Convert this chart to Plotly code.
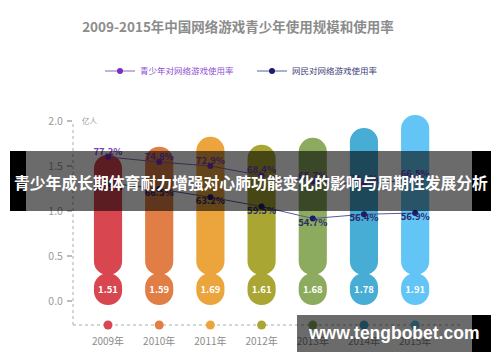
import plotly.graph_objects as go

# ---------------- data ----------------
years = ["2009年", "2010年", "2011年", "2012年", "2013年", "2014年", "2015年"]
users = [1.51, 1.59, 1.69, 1.61, 1.68, 1.78, 1.91]          # 亿人
youth_rate = [77.2, 74.8, 72.9, 68.4, 65.7, 64.2, 66.5]       # 青少年对网络游戏使用率 %
netizen_rate = [68.9, 66.5, 63.2, 59.5, 54.7, 56.4, 56.9]     # 网民对网络游戏使用率 %
y_ticks = [0.0, 0.5, 1.0, 1.5, 2.0]
y_tick_text = ["0.0", "0.5", "1.0", "1.5", "2.0"]

title_text = "2009-2015年中国网络游戏青少年使用规模和使用率"
youth_name = "青少年对网络游戏使用率"
netizen_name = "网民对网络游戏使用率"
unit_text = "亿人"
banner_text = "青少年成长期体育耐力增强对心肺功能变化的影响与周期性发展分析"
watermark_text = "www.tengbobet.com"

bar_colors = ["#d8464f", "#e07e46", "#eca43c", "#a9a634", "#8cab5e", "#47add4", "#63c5f6"]

# ---------------- layout helpers ----------------
W, H = 500, 362
L, R, T, B = 73, 40, 110, 37
PW, PH = W - L - R, H - T - B


def px(x):
    return (x - L) / PW


def py(y):
    return (H - B - y) / PH


Y_MIN, Y_MAX = -0.265, 2.121        # visible tick axis
CAP = 0.3                            # split point for the pill-shaped bars
FONT = "Noto Sans CJK SC, Noto Sans, sans-serif"

fig = go.Figure()

# bottom rounded part of each bar (carries the value label)
fig.add_trace(go.Bar(
    x=years, y=[-(CAP + 0.02)] * len(users), base=[CAP + 0.02] * len(users),
    yaxis="y2", width=0.55,
    marker=dict(color=bar_colors, cornerradius=14, line=dict(width=0)),
    text=[f"{v:.2f}" for v in users], textposition="inside",
    insidetextanchor="middle", textangle=0, constraintext="none",
    textfont=dict(color="white", size=11, family=FONT, weight="bold"),
    showlegend=False, hoverinfo="skip",
))
# top rounded part of each bar
fig.add_trace(go.Bar(
    x=years, y=[v - CAP for v in users], base=[CAP] * len(users),
    yaxis="y2", width=0.55,
    marker=dict(color=bar_colors, cornerradius=14, line=dict(width=0)),
    showlegend=False, hoverinfo="skip",
))

# lines
fig.add_trace(go.Scatter(
    x=years, y=youth_rate, yaxis="y3", mode="lines+markers",
    line=dict(color="#8a63c4", width=1), marker=dict(color="#7a2fc0", size=6),
    name=f"<span style='color:#8e4fd0'>{youth_name}</span>",
))
fig.add_trace(go.Scatter(
    x=years, y=youth_rate, yaxis="y3", mode="text",
    text=[f"{v}%" for v in youth_rate], textposition="top center",
    textfont=dict(color="#7b3fc0", size=9.5, family=FONT, weight="bold"),
    showlegend=False, hoverinfo="skip",
))
fig.add_trace(go.Scatter(
    x=years, y=netizen_rate, yaxis="y4", mode="lines+markers",
    line=dict(color="#5a5a98", width=1), marker=dict(color="#1c1c6a", size=6),
    name=f"<span style='color:#40407a'>{netizen_name}</span>",
))
fig.add_trace(go.Scatter(
    x=years, y=netizen_rate, yaxis="y4", mode="text",
    text=[f"{v}%" for v in netizen_rate], textposition="bottom center",
    textfont=dict(color="#2a2a6a", size=9.5, family=FONT, weight="bold"),
    showlegend=False, hoverinfo="skip",
))

# colored dots on the category axis
fig.add_trace(go.Scatter(
    x=years, y=[Y_MIN] * len(years), yaxis="y", mode="markers",
    marker=dict(color=bar_colors, size=9), cliponaxis=False,
    showlegend=False, hoverinfo="skip",
))

shapes = [
    # dotted axes
    dict(type="line", xref="paper", yref="paper", x0=0, x1=1, y0=0, y1=0,
         line=dict(color="#c8c8c8", width=1.5, dash="dot"), layer="below"),
    dict(type="line", xref="paper", yref="y", x0=0, x1=0, y0=Y_MIN, y1=y_ticks[-1],
         line=dict(color="#c8c8c8", width=1.5, dash="dot"), layer="below"),
    # banner
    dict(type="rect", xref="paper", yref="paper", x0=px(26), x1=px(472), y0=py(211), y1=py(151),
         fillcolor="rgba(0,0,0,0.58)", line=dict(width=0), layer="above"),
    dict(type="rect", xref="paper", yref="paper", x0=px(10), x1=px(26), y0=py(211), y1=py(151),
         fillcolor="black", line=dict(width=0), layer="above"),
    dict(type="rect", xref="paper", yref="paper", x0=px(472), x1=px(491), y0=py(211), y1=py(151),
         fillcolor="black", line=dict(width=0), layer="above"),
    # watermark
    dict(type="rect", xref="paper", yref="paper", x0=px(297), x1=px(472), y0=py(352), y1=py(315),
         fillcolor="rgba(0,0,0,0.58)", line=dict(width=0), layer="above"),
    dict(type="rect", xref="paper", yref="paper", x0=px(472), x1=px(491), y0=py(352), y1=py(315),
         fillcolor="black", line=dict(width=0), layer="above"),
]

annotations = [
    dict(text=unit_text, xref="paper", yref="y", x=px(80), y=y_ticks[-1], xanchor="left",
         yanchor="middle", showarrow=False, font=dict(size=7.5, color="#999999", family=FONT)),
    dict(text=f"<b>{banner_text}</b>", xref="paper", yref="paper", x=px(251), y=py(182),
         xanchor="center", yanchor="middle", showarrow=False,
         font=dict(size=15.8, color="white", family=FONT)),
    dict(text=f"<b>{watermark_text}</b>", xref="paper", yref="paper", x=px(393), y=py(333),
         xanchor="center", yanchor="middle", showarrow=False,
         font=dict(size=17.5, color="white", family="Liberation Sans, Arial, sans-serif")),
]

fig.update_layout(
    width=W, height=H,
    margin=dict(l=L, r=R, t=T, b=B),
    paper_bgcolor="white", plot_bgcolor="white",
    font=dict(family=FONT, color="#999999"),
    barmode="overlay",
    title=dict(text=f"<b>{title_text}</b>", x=238 / W, xanchor="center",
               y=1 - 27 / H, yanchor="middle",
               font=dict(size=13.5, color="#8c8c8c", family=FONT)),
    legend=dict(orientation="h", xref="container", yref="container",
                x=100 / W, xanchor="left", y=1 - 71 / H, yanchor="middle",
                font=dict(size=8.5, family=FONT), itemwidth=30, entrywidth=107,
                bgcolor="rgba(0,0,0,0)"),
    xaxis=dict(type="category", range=[-0.684, 6.876], showgrid=False, zeroline=False,
               showline=False, ticks="", ticklabelstandoff=9,
               tickfont=dict(size=10, color="#8c8c8c", family=FONT)),
    yaxis=dict(range=[Y_MIN, Y_MAX], tickvals=y_ticks, ticktext=y_tick_text,
               showgrid=False, zeroline=False, showline=False,
               ticks="outside", ticklen=5, tickwidth=2, tickcolor="#bdbdbd",
               ticklabelstandoff=2, tickfont=dict(size=10.5, color="#9a9a9a", family=FONT)),
    yaxis2=dict(range=[-0.201, 1.960], overlaying="y", visible=False),
    yaxis3=dict(range=[-2.8, 99.58], overlaying="y", visible=False),
    yaxis4=dict(range=[12.1, 98.1], overlaying="y", visible=False),
    shapes=shapes,
    annotations=annotations,
)

fig.write_html("out.html", config={"displayModeBar": False},
               post_script="document.body.style.margin='0';document.body.style.overflow='hidden';")
